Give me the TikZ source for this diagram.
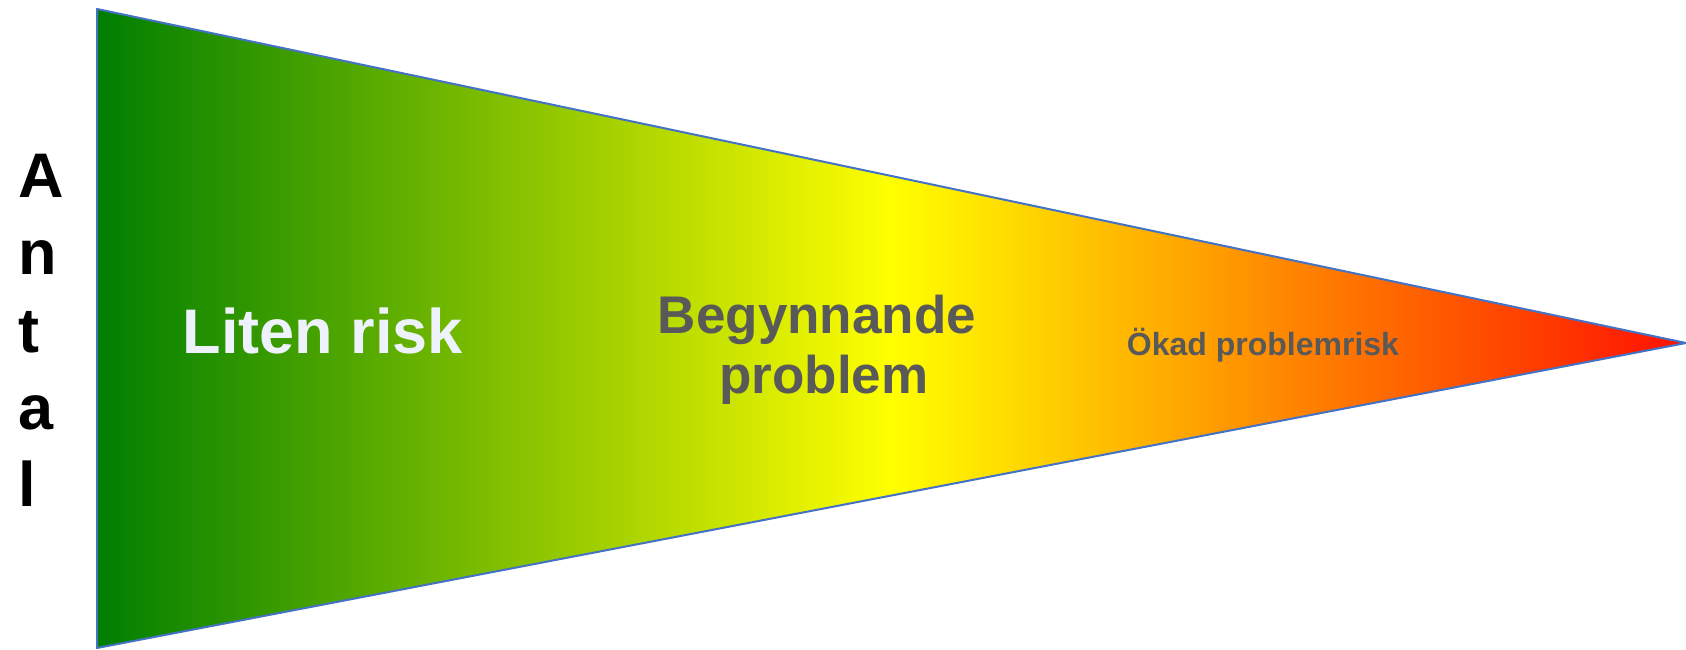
\documentclass[tikz,border=0pt]{standalone}
\usepackage{fontspec}
\setmainfont{Liberation Sans}

% Funnel colours, green through yellow to red
\definecolor{tgreen}{RGB}{0,126,0}
\definecolor{tyellow}{RGB}{255,255,0}
\definecolor{torange}{RGB}{255,158,0}
\definecolor{tred}{RGB}{255,16,0}
\definecolor{edgeblue}{RGB}{68,114,196}
\definecolor{labelgray}{RGB}{89,89,89}
\definecolor{labelwhite}{RGB}{238,242,252}

% The path's bounding box is mapped onto 25bp..75bp of the shading
\pgfdeclarehorizontalshading{traffic}{100bp}{%
  color(0bp)=(tgreen); color(25bp)=(tgreen);
  color(50bp)=(tyellow); color(60bp)=(torange);
  color(75bp)=(tred); color(100bp)=(tred)}

\tikzset{
  funneledge/.style={draw=edgeblue, line width=2pt, line join=round},
  axisletter/.style={anchor=base west, inner sep=0pt, text=black,
    font=\fontsize{63}{63}\selectfont\bfseries},
  biglabel/.style={anchor=base, inner sep=0pt,
    font=\fontsize{63}{63}\selectfont\bfseries},
  midlabel/.style={anchor=base, inner sep=0pt, text=labelgray, align=center,
    font=\fontsize{53}{60}\selectfont\bfseries},
  smalllabel/.style={anchor=base, inner sep=0pt, text=labelgray,
    font=\fontsize{32}{32}\selectfont\bfseries}
}

\begin{document}
\begin{tikzpicture}[x=1pt,y=1pt]
  \useasboundingbox (0,0) rectangle (1686,649);

  % corners of the funnel
  \coordinate (tl) at (97,640);
  \coordinate (bl) at (97,1);
  \coordinate (tip) at (1686,306);

  \shade[shading=traffic] (tl) -- (tip) -- (bl) -- cycle;
  \draw[funneledge] (tl) -- (tip) -- (bl) -- cycle;

  % vertical axis word, one letter per line
  \node[axisletter] (a1) at (18,451) {A};
  \node[axisletter] (a2) at (18,374) {n};
  \node[axisletter] (a3) at (18,297) {t};
  \node[axisletter] (a4) at (18,220) {a};
  \node[axisletter] (a5) at (18,143) {l};

  % zone labels
  \node[biglabel, text=labelwhite] (low) at (323,296) {Liten risk};
  \node[midlabel] (mid1) at (817,316) {Begynnande};
  \node[midlabel] (mid2) at (824,256) {problem};
  \node[smalllabel] (high) at (1263,294) {Ökad problemrisk};
\end{tikzpicture}
\end{document}
